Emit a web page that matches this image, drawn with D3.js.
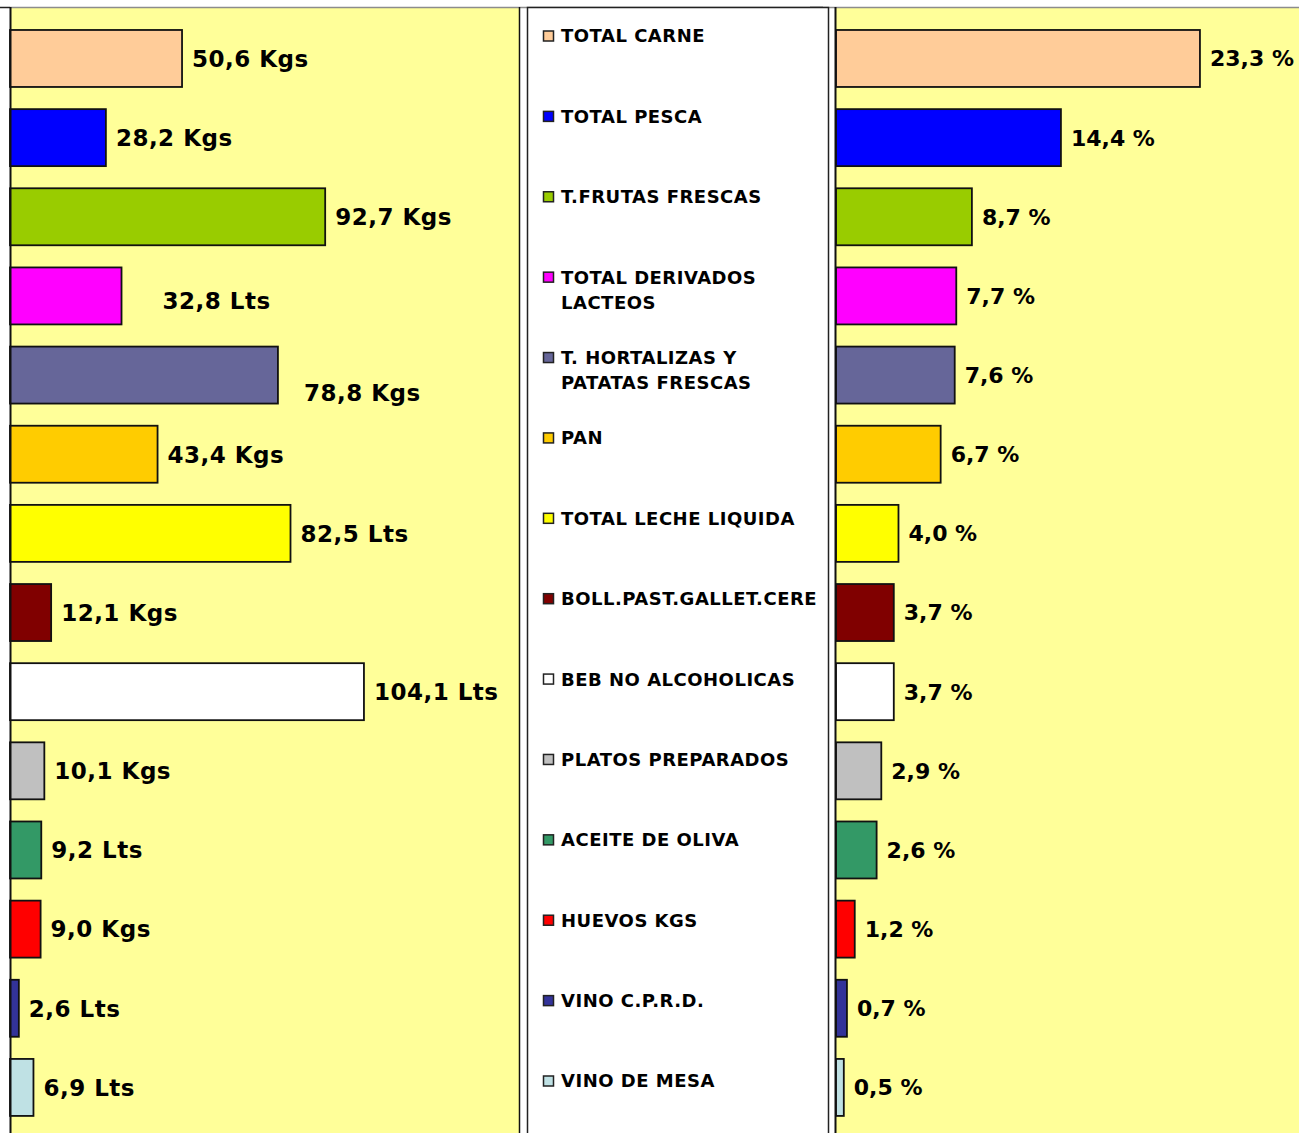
<!DOCTYPE html>
<html lang="es">
<head>
  <meta charset="utf-8">
  <title>Consumo per capita</title>
  <script src="https://cdn.jsdelivr.net/npm/d3@7"></script>
  <style>
    body { margin: 0; background: #fff; }
    text { font-family: "DejaVu Sans", Verdana, sans-serif; font-weight: bold; fill: #000; }
  </style>
</head>
<body>
  <script>
    // categories, top to bottom
    var categories = ["TOTAL CARNE", "TOTAL PESCA", "T.FRUTAS FRESCAS", "TOTAL DERIVADOS LACTEOS",
      "T. HORTALIZAS Y PATATAS FRESCAS", "PAN", "TOTAL LECHE LIQUIDA", "BOLL.PAST.GALLET.CERE",
      "BEB NO ALCOHOLICAS", "PLATOS PREPARADOS", "ACEITE DE OLIVA", "HUEVOS KGS",
      "VINO C.P.R.D.", "VINO DE MESA"];

    // legend text, wrapped as in the original
    var legendLines = [["TOTAL CARNE"], ["TOTAL PESCA"], ["T.FRUTAS FRESCAS"], ["TOTAL DERIVADOS", "LACTEOS"],
      ["T. HORTALIZAS Y", "PATATAS FRESCAS"], ["PAN"], ["TOTAL LECHE LIQUIDA"], ["BOLL.PAST.GALLET.CERE"],
      ["BEB NO ALCOHOLICAS"], ["PLATOS PREPARADOS"], ["ACEITE DE OLIVA"], ["HUEVOS KGS"],
      ["VINO C.P.R.D."], ["VINO DE MESA"]];

    var quantities = [50.6, 28.2, 92.7, 32.8, 78.8, 43.4, 82.5, 12.1, 104.1, 10.1, 9.2, 9.0, 2.6, 6.9];
    var units = ["Kgs", "Kgs", "Kgs", "Lts", "Kgs", "Kgs", "Lts", "Kgs", "Lts", "Kgs", "Lts", "Kgs", "Lts", "Lts"];
    var shares = [23.3, 14.4, 8.7, 7.7, 7.6, 6.7, 4.0, 3.7, 3.7, 2.9, 2.6, 1.2, 0.7, 0.5];

    var colors = ["#ffcc99", "#0000ff", "#99cc00", "#ff00ff", "#666699", "#ffcc00", "#ffff00",
      "#800000", "#ffffff", "#c0c0c0", "#339966", "#ff0000", "#333399", "#bfe1e4"];

    // a couple of labels sit off their bar in the original
    var labelNudge = { 3: [31, 5], 4: [16, 18] };

    var W = 1299, H = 1133;
    var es = d3.formatLocale({ decimal: ",", thousands: ".", grouping: [3], currency: ["", "€"] });
    var fmt = es.format(".1f");

    var svg = d3.select("body").append("svg")
      .attr("width", W)
      .attr("height", H);

    var y = d3.scaleBand()
      .domain(categories)
      .range([18.9, 18.9 + 14 * 79.15])
      .paddingInner(0.28)
      .paddingOuter(0.14);

    var xLeft = d3.scaleLinear().domain([0, 150]).range([10, 520]);
    var xRight = d3.scaleLinear().domain([0, 30]).range([836, 836 + 30 * 15.62]);

    var legendY = d3.scalePoint().domain(categories).range([36, 1081]);

    // panels
    svg.append("rect").attr("x", 10).attr("y", 7).attr("width", 509).attr("height", H)
      .attr("fill", "#ffff99");
    svg.append("rect").attr("x", 836).attr("y", 7).attr("width", W - 836).attr("height", H)
      .attr("fill", "#ffff99");

    // top border
    svg.append("line").attr("x1", 10).attr("x2", W).attr("y1", 7.5).attr("y2", 7.5)
      .attr("stroke", "#8c8c8c").attr("stroke-width", 1.5);
    svg.append("line").attr("x1", 0).attr("x2", 10).attr("y1", 7.5).attr("y2", 7.5)
      .attr("stroke", "#222").attr("stroke-width", 1.5);
    svg.append("line").attr("x1", 810).attr("x2", 823).attr("y1", 7.5).attr("y2", 7.5)
      .attr("stroke", "#333").attr("stroke-width", 1.5);

    // legend box
    svg.append("rect").attr("x", 527.5).attr("y", 7.5).attr("width", 301).attr("height", H)
      .attr("fill", "#fff").attr("stroke", "#222").attr("stroke-width", 1.5);

    function drawBars(x, values, labelFn, nudge, fontSize, spacing) {
      var g = svg.append("g");
      g.selectAll("rect")
        .data(values)
        .enter().append("rect")
        .attr("x", x(0))
        .attr("y", function(d, i) { return y(categories[i]); })
        .attr("width", function(d) { return x(d) - x(0); })
        .attr("height", y.bandwidth())
        .attr("fill", function(d, i) { return colors[i]; })
        .attr("stroke", "#111")
        .attr("stroke-width", 1.8);

      g.selectAll("text")
        .data(values)
        .enter().append("text")
        .attr("x", function(d, i) { return x(d) + 10 + ((nudge && nudge[i]) ? nudge[i][0] : 0); })
        .attr("y", function(d, i) {
          return y(categories[i]) + y.bandwidth() / 2 + ((nudge && nudge[i]) ? nudge[i][1] : 0);
        })
        .attr("dy", "0.36em")
        .attr("font-size", fontSize)
        .attr("letter-spacing", spacing)
        .text(labelFn);
    }

    drawBars(xLeft, quantities, function(d, i) { return fmt(d) + " " + units[i]; }, labelNudge, 23, 0.5);
    drawBars(xRight, shares, function(d) { return fmt(d) + " %"; }, null, 22, 0);

    // axis lines
    svg.append("line").attr("x1", 10.5).attr("x2", 10.5).attr("y1", 7).attr("y2", H)
      .attr("stroke", "#111").attr("stroke-width", 2);
    svg.append("line").attr("x1", 519.5).attr("x2", 519.5).attr("y1", 7).attr("y2", H)
      .attr("stroke", "#111").attr("stroke-width", 1.5);
    svg.append("line").attr("x1", 835.5).attr("x2", 835.5).attr("y1", 7).attr("y2", H)
      .attr("stroke", "#111").attr("stroke-width", 2);

    // legend
    var items = svg.append("g").selectAll("g")
      .data(categories)
      .enter().append("g")
      .attr("transform", function(d) { return "translate(0," + legendY(d) + ")"; });

    items.append("rect")
      .attr("x", 543.5).attr("y", -5).attr("width", 10).attr("height", 10)
      .attr("fill", function(d, i) { return colors[i]; })
      .attr("stroke", "#222").attr("stroke-width", 1.5);

    items.each(function(d, i) {
      d3.select(this).selectAll("text")
        .data(legendLines[i])
        .enter().append("text")
        .attr("x", 561)
        .attr("y", function(t, j) { return j * 25; })
        .attr("dy", "0.36em")
        .attr("font-size", 18)
        .attr("letter-spacing", 0.5)
        .text(function(t) { return t; });
    });
  </script>
</body>
</html>
